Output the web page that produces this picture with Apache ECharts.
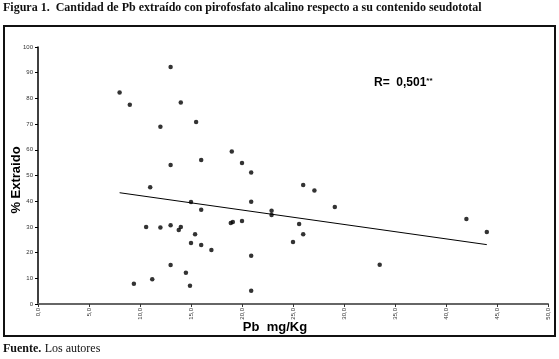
<!DOCTYPE html>
<html>
<head>
<meta charset="utf-8">
<script src="https://cdn.jsdelivr.net/npm/echarts@6/dist/echarts.min.js"></script>
<style>
html,body{margin:0;padding:0;background:#fff;}
#chart{width:559px;height:359px;}
</style>
</head>
<body>
<div id="chart"></div>
<script>
// Pb mg/Kg vs % Extraido
let pbVals = [13.0, 8.0, 9.0, 14.0, 12.0, 15.5, 13.0, 16.0, 11.0, 15.0,
              16.0, 10.6, 12.0, 13.0, 14.0, 13.8, 15.4, 15.0, 16.0, 17.0,
              13.0, 14.5, 11.2, 9.4, 14.9, 19.0, 20.0, 20.9, 26.0, 27.1,
              20.9, 29.1, 22.9, 22.9, 18.9, 19.1, 20.0, 25.6, 26.0, 25.0,
              20.9, 20.9, 42.0, 44.0, 33.5];
let extVals = [92.2, 82.3, 77.5, 78.4, 69.0, 70.8, 54.1, 56.0, 45.4, 39.7,
               36.7, 30.0, 29.8, 30.6, 30.0, 28.8, 27.1, 23.7, 23.0, 21.0,
               15.2, 12.2, 9.6, 7.9, 7.1, 59.3, 54.9, 51.2, 46.3, 44.2,
               39.8, 37.7, 36.3, 34.6, 31.5, 31.9, 32.3, 31.1, 27.1, 24.1,
               18.8, 5.2, 33.1, 28.0, 15.3];
// regression line ends
let fitX = [8.0, 44.0];
let fitY = [43.3, 23.1];
let xTicks = ['0,0','5,0','10,0','15,0','20,0','25,0','30,0','35,0','40,0','45,0','50,0'];

let pts = pbVals.map((x,i)=>[x, extVals[i]]);
let fit = fitX.map((x,i)=>[x, fitY[i]]);

let chart = echarts.init(document.getElementById('chart'));
chart.setOption({
  animation:false,
  backgroundColor:'#fff',
  grid:{left:38, right:11, top:47, bottom:55, containLabel:false, outerBoundsMode:'none'},
  xAxis:{
    type:'value',
    min:0, max:50, interval:5,
    axisLine:{lineStyle:{color:'#666', width:2}},
    axisTick:{show:true, length:3, lineStyle:{color:'#333'}},
    splitLine:{show:false},
    axisLabel:{
      rotate:90, fontSize:6, color:'#333', margin:4,
      fontFamily:'Arial, Liberation Sans',
      formatter:(v)=>xTicks[Math.round(v/5)]
    }
  },
  yAxis:{
    type:'value',
    min:0, max:100, interval:10,
    axisLine:{show:true, lineStyle:{color:'#000', width:1.5}},
    axisTick:{show:true, length:3, lineStyle:{color:'#000'}},
    splitLine:{show:false},
    axisLabel:{fontSize:6, color:'#333', margin:5, fontFamily:'Arial, Liberation Sans'}
  },
  graphic:[
    {type:'rect', shape:{x:4, y:26, width:551, height:310},
     style:{fill:null, stroke:'#111', lineWidth:2}, z:-1},
    {type:'text', left:3, top:2,
     style:{text:'Figura 1.  Cantidad de Pb extraído con pirofosfato alcalino respecto a su contenido seudototal',
            font:'bold 12px "Liberation Serif", serif', fill:'#111'}},
    {type:'text', left:3, top:343,
     style:{rich:{b:{font:'bold 12px "Liberation Serif", serif', fill:'#111'},
                  n:{font:'12px "Liberation Serif", serif', fill:'#111'}},
            text:'{b|Fuente.} {n|Los autores}'}},
    {type:'text', x:16, y:180, rotation:Math.PI/2,
     style:{text:'% Extraido', font:'bold 13px Arial, "Liberation Sans"', fill:'#000',
            align:'center', verticalAlign:'middle'}},
    {type:'text', x:275, y:327,
     style:{text:'Pb  mg/Kg', font:'bold 13px Arial, "Liberation Sans"', fill:'#000',
            align:'center', verticalAlign:'middle'}},
    {type:'text', x:374, y:83,
     style:{rich:{a:{font:'bold 12px Arial, "Liberation Sans"', fill:'#000'},
                  s:{font:'bold 8px Arial, "Liberation Sans"', fill:'#000', verticalAlign:'top', padding:[0,0,5,0]}},
            text:'{a|R=  0,501}{s|**}', verticalAlign:'middle'}}
  ],
  series:[
    {type:'scatter', data:pts, symbol:'circle', symbolSize:4.5,
     itemStyle:{color:'#000'}},
    {type:'line', data:fit, symbol:'none',
     lineStyle:{color:'#000', width:1}}
  ]
});
</script>
</body>
</html>
